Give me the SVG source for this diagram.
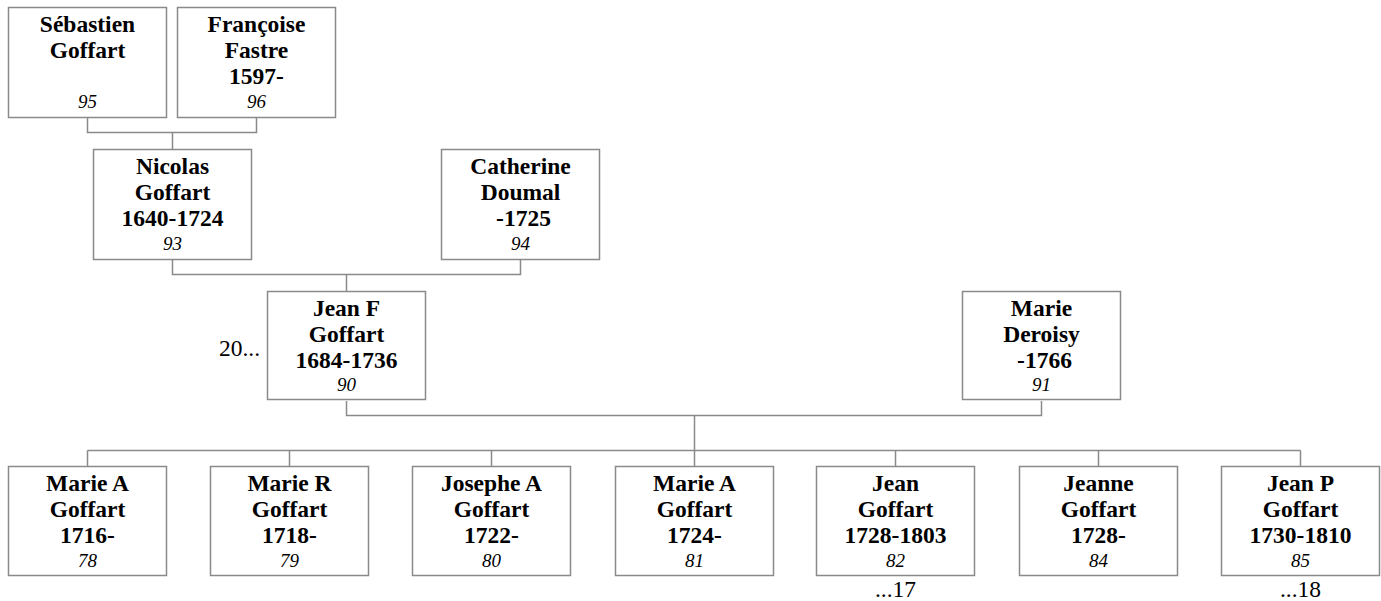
<svg xmlns="http://www.w3.org/2000/svg" width="1381" height="601" viewBox="0 0 1381 601">
<style>
.box{fill:#fff;stroke:#8a8a8a;stroke-width:1.5}
.conn{fill:none;stroke:#8a8a8a;stroke-width:1.5}
.n{font-family:"Liberation Serif","Times New Roman",serif;font-weight:bold;font-size:23.5px;text-anchor:middle;fill:#000}
.id{font-family:"Liberation Serif","Times New Roman",serif;font-style:italic;font-size:19px;text-anchor:middle;fill:#000}
.r{font-family:"Liberation Serif","Times New Roman",serif;font-size:23.5px;fill:#000}
</style>
<rect width="1381" height="601" fill="#fff"/>
<g id="connectors">
<path class="conn" d="M87.5 117 V132.5 H256.5 V117 M172.5 132.5 V149"/>
<path class="conn" d="M172.5 259 V274.5 H520.5 V259 M346.5 274.5 V291"/>
<path class="conn" d="M346.5 401 V415.5 H1041.5 V401 M694.5 415.5 V450.5"/>
<path class="conn" d="M87.5 450.5 H1300.5 M87.5 450.5 V466 M289.5 450.5 V466 M491.5 450.5 V466 M694.5 450.5 V466 M895.5 450.5 V466 M1098.5 450.5 V466 M1300.5 450.5 V466"/>
</g>
<g id="n95"><rect class="box" x="8.5" y="7.5" width="158" height="110"/><text class="n" x="87.5" y="32">Sébastien</text><text class="n" x="87.5" y="58">Goffart</text><text class="id" x="87.5" y="108">95</text></g>
<g id="n96"><rect class="box" x="177.5" y="7.5" width="158" height="110"/><text class="n" x="256.5" y="32">Françoise</text><text class="n" x="256.5" y="58">Fastre</text><text class="n" x="256.5" y="84">1597-</text><text class="id" x="256.5" y="108">96</text></g>
<g id="n93"><rect class="box" x="93.5" y="149.5" width="158" height="110"/><text class="n" x="172.5" y="174">Nicolas</text><text class="n" x="172.5" y="200">Goffart</text><text class="n" x="172.5" y="226">1640-1724</text><text class="id" x="172.5" y="250">93</text></g>
<g id="n94"><rect class="box" x="441.5" y="149.5" width="158" height="110"/><text class="n" x="520.5" y="174">Catherine</text><text class="n" x="520.5" y="200">Doumal</text><text class="n" x="523.5" y="226">-1725</text><text class="id" x="520.5" y="250">94</text></g>
<g id="n90"><rect class="box" x="267.5" y="291.5" width="158" height="108"/><text class="n" x="346.5" y="316">Jean F</text><text class="n" x="346.5" y="342">Goffart</text><text class="n" x="346.5" y="368">1684-1736</text><text class="id" x="346.5" y="391">90</text></g>
<text class="r" x="260" y="356" text-anchor="end">20...</text>
<g id="n91"><rect class="box" x="962.5" y="291.5" width="158" height="108"/><text class="n" x="1041.5" y="316">Marie</text><text class="n" x="1041.5" y="342">Deroisy</text><text class="n" x="1044.5" y="368">-1766</text><text class="id" x="1041.5" y="391">91</text></g>
<g id="n78"><rect class="box" x="8.5" y="466.5" width="158" height="109"/><text class="n" x="87.5" y="491">Marie A</text><text class="n" x="87.5" y="517">Goffart</text><text class="n" x="87.5" y="543">1716-</text><text class="id" x="87.5" y="567">78</text></g>
<g id="n79"><rect class="box" x="210.5" y="466.5" width="158" height="109"/><text class="n" x="289.5" y="491">Marie R</text><text class="n" x="289.5" y="517">Goffart</text><text class="n" x="289.5" y="543">1718-</text><text class="id" x="289.5" y="567">79</text></g>
<g id="n80"><rect class="box" x="412.5" y="466.5" width="158" height="109"/><text class="n" x="491.5" y="491">Josephe A</text><text class="n" x="491.5" y="517">Goffart</text><text class="n" x="491.5" y="543">1722-</text><text class="id" x="491.5" y="567">80</text></g>
<g id="n81"><rect class="box" x="615.5" y="466.5" width="158" height="109"/><text class="n" x="694.5" y="491">Marie A</text><text class="n" x="694.5" y="517">Goffart</text><text class="n" x="694.5" y="543">1724-</text><text class="id" x="694.5" y="567">81</text></g>
<g id="n82"><rect class="box" x="816.5" y="466.5" width="158" height="109"/><text class="n" x="895.5" y="491">Jean</text><text class="n" x="895.5" y="517">Goffart</text><text class="n" x="895.5" y="543">1728-1803</text><text class="id" x="895.5" y="567">82</text></g>
<text class="r" x="895.5" y="597" text-anchor="middle">...17</text>
<g id="n84"><rect class="box" x="1019.5" y="466.5" width="158" height="109"/><text class="n" x="1098.5" y="491">Jeanne</text><text class="n" x="1098.5" y="517">Goffart</text><text class="n" x="1098.5" y="543">1728-</text><text class="id" x="1098.5" y="567">84</text></g>
<g id="n85"><rect class="box" x="1221.5" y="466.5" width="158" height="109"/><text class="n" x="1300.5" y="491">Jean P</text><text class="n" x="1300.5" y="517">Goffart</text><text class="n" x="1300.5" y="543">1730-1810</text><text class="id" x="1300.5" y="567">85</text></g>
<text class="r" x="1300.5" y="597" text-anchor="middle">...18</text>
</svg>
